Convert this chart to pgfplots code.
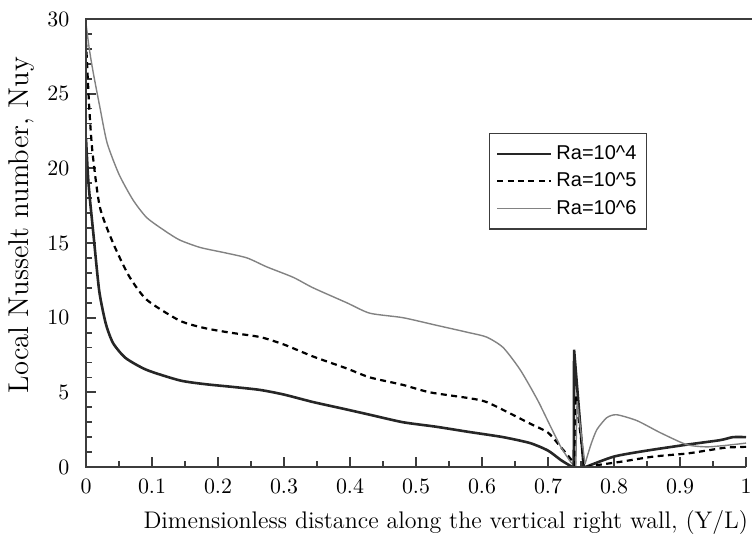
\documentclass[border=0pt]{standalone}
\usepackage{pgfplots}
\pgfplotsset{compat=1.18}
\usepackage{fontspec}
\newfontfamily\legfont{Liberation Sans}
\definecolor{axgray}{RGB}{60,60,60}
\definecolor{thingray}{RGB}{130,130,130}
\begin{document}
\begin{tikzpicture}
\begin{axis}[
    scale only axis,
    width=330pt, height=224pt,
    xmin=0, xmax=1, ymin=0, ymax=30,
    axis line style={draw=none},
    xtick pos=bottom, ytick pos=left,
    xtick={0,0.1,...,1.01}, minor x tick num=1,
    ytick={0,5,...,30}, minor y tick num=4,
    tick align=inside,
    major tick length=5pt, minor tick length=3pt,
    tick style={axgray, line width=0.9pt},
    ticklabel style={font=\fontsize{11.3}{13}\selectfont},
    xticklabel style={/pgf/number format/fixed, /pgf/number format/precision=1, yshift=-2.8pt},
    yticklabel style={xshift=-4.8pt},
    xlabel={Dimensionless distance along the vertical right wall, (Y/L)},
    ylabel={Local Nusselt number, Nuy},
    xlabel style={at={(axis description cs:0.545,-0.125)}, anchor=center, font=\fontsize{12}{14}\selectfont},
    ylabel style={at={(axis description cs:-0.097,0.54)}, anchor=center, rotate=0, font=\fontsize{14.3}{16}\selectfont},
    legend style={at={(rel axis cs:0.611,0.746)}, anchor=north west,
        font=\legfont\fontsize{10}{11.5}\selectfont, draw=axgray, line width=0.6pt,
        inner xsep=3pt, inner ysep=4pt, row sep=1.2pt},
    legend image code/.code={\draw[#1] (0pt,0pt) -- (27pt,0pt);},
    legend cell align=left,
]
% Ra=10^4
\addplot[line width=1.3pt, color=black!85, smooth, tension=0.4] coordinates {
(0,22) (0.003,19.5) (0.006,17.9) (0.011,15.7) (0.02,11.8) (0.03,9.6) (0.041,8.3)
(0.06,7.3) (0.092,6.5) (0.142,5.8) (0.18,5.55) (0.223,5.36) (0.264,5.16) (0.3,4.85)
(0.344,4.35) (0.39,3.9) (0.43,3.5) (0.48,3.0) (0.53,2.7) (0.58,2.35) (0.632,2.0)
(0.673,1.6) (0.7,1.1) (0.72,0.45) (0.735,0.05) (0.739,0)
};
\addlegendentry{Ra=10\string^4}
% Ra=10^5
\addplot[line width=1.1pt, color=black, dash pattern=on 3pt off 2.2pt, smooth, tension=0.4] coordinates {
(0,28.5) (0.005,24) (0.01,21) (0.021,17.4) (0.041,15.0) (0.065,12.8) (0.092,11.2)
(0.142,9.8) (0.18,9.3) (0.218,9.0) (0.264,8.7) (0.3,8.2) (0.344,7.4) (0.395,6.6)
(0.43,6.0) (0.48,5.5) (0.521,5.0) (0.582,4.6) (0.607,4.35) (0.642,3.6) (0.673,2.9)
(0.7,2.3) (0.72,1.3) (0.735,0.5) (0.741,0)
};
\addlegendentry{Ra=10\string^5}
% Ra=10^6
\addplot[line width=0.7pt, color=thingray, smooth, tension=0.4] coordinates {
(0,29.7) (0.005,28) (0.011,26.4) (0.021,24.1) (0.032,21.7) (0.05,19.6) (0.071,17.9)
(0.092,16.7) (0.12,15.8) (0.142,15.2) (0.173,14.7) (0.21,14.35) (0.244,14.0) (0.274,13.4)
(0.314,12.7) (0.344,12.0) (0.395,11.0) (0.43,10.3) (0.48,10.0) (0.53,9.5) (0.58,9.0)
(0.607,8.7) (0.632,8.0) (0.658,6.5) (0.684,4.5) (0.704,2.7) (0.72,1.3) (0.735,0.3)
(0.742,0)
};
\addlegendentry{Ra=10\string^6}
% spikes near Y/L = 0.75
\addplot[forget plot, line width=1.3pt, color=black!85] coordinates {
(0.739,0) (0.7395,7.85) (0.754,0) (0.757,0)};
\addplot[forget plot, line width=1.1pt, color=black, dash pattern=on 3pt off 2.2pt] coordinates {
(0.741,0) (0.742,4.8) (0.755,0.1) (0.757,0)};
\addplot[forget plot, line width=0.7pt, color=thingray] coordinates {
(0.742,0) (0.744,4.4) (0.756,0.2)};
% after the spikes
\addplot[forget plot, line width=1.3pt, color=black!85, smooth, tension=0.4] coordinates {
(0.757,0) (0.8,0.7) (0.85,1.1) (0.911,1.5) (0.961,1.8) (0.98,2.0) (1.0,2.0)};
\addplot[forget plot, line width=1.1pt, color=black, dash pattern=on 3pt off 2.2pt, smooth, tension=0.4] coordinates {
(0.757,0) (0.77,0.1) (0.81,0.35) (0.86,0.7) (0.91,0.9) (0.94,1.1) (0.97,1.3) (1.0,1.35)};
\addplot[forget plot, line width=0.7pt, color=thingray, smooth, tension=0.4] coordinates {
(0.756,0.2) (0.765,1.5) (0.774,2.5) (0.789,3.3) (0.804,3.5) (0.835,3.1) (0.87,2.3)
(0.91,1.5) (0.94,1.35) (0.97,1.45) (1.0,1.6)};
\coordinate (ll) at (rel axis cs:0,0);
\coordinate (lr) at (rel axis cs:1,0);
\coordinate (ul) at (rel axis cs:0,1);
\coordinate (ur) at (rel axis cs:1,1);
\end{axis}
% axis frame: left, bottom and top only
\draw[draw=axgray, line width=1pt]
  (lr) -- (ll) -- (ul) -- ([xshift=6pt]ur);
\pgfresetboundingbox
\path ([shift={(-43pt,-36.5pt)}]ll) rectangle ([shift={(3pt,9.5pt)}]ur);
\end{tikzpicture}
\end{document}
